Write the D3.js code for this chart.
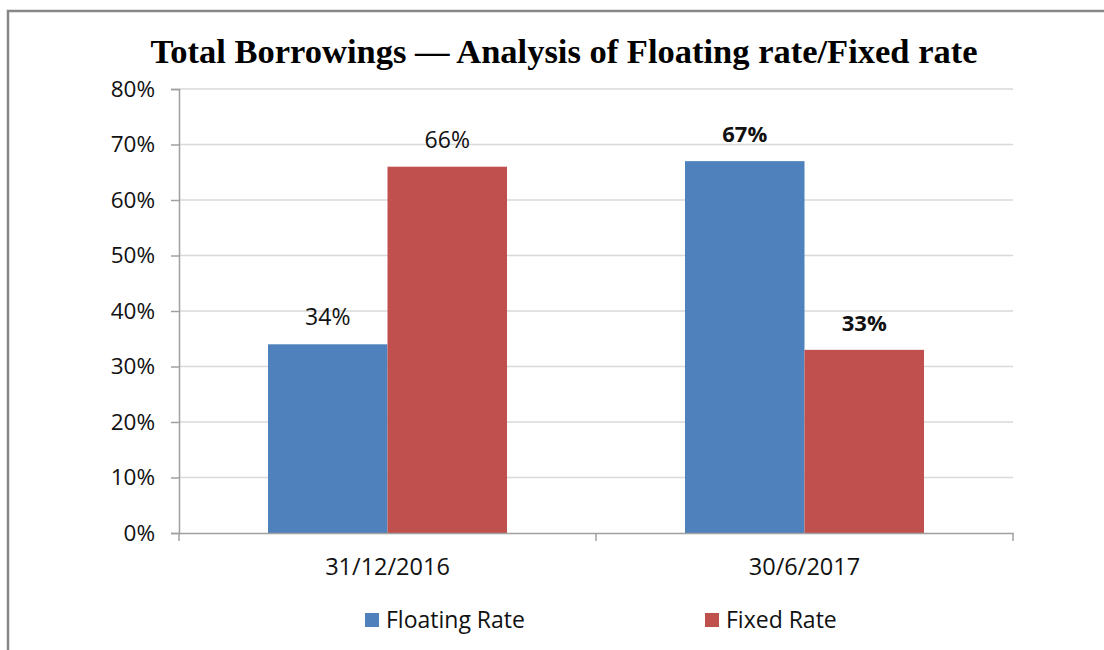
<!DOCTYPE html>
<html>
<head>
<meta charset="utf-8">
<script src="https://cdn.jsdelivr.net/npm/d3@7"></script>
<style>
  body { margin: 0; background: #fff; }
  svg { display: block; }
</style>
</head>
<body>
<svg width="1104" height="650"></svg>
<script>
const categories = ["31/12/2016", "30/6/2017"];
const seriesNames = ["Floating Rate", "Fixed Rate"];
const floatingRate = [34, 67];
const fixedRate = [66, 33];
const boldLabels = [false, true]; // second date has bold data labels
const yTicks = [0, 10, 20, 30, 40, 50, 60, 70, 80];
const colors = ["#4f81bd", "#c0504d"];

const svg = d3.select("svg");
const width = +svg.attr("width");
const height = +svg.attr("height");
const sans = "'Open Sans', 'Noto Sans', sans-serif";

// outer chart frame (only top/left edges visible in the crop)
svg.append("rect")
  .attr("x", 8).attr("y", 11)
  .attr("width", width + 20).attr("height", height + 20)
  .attr("fill", "#fff")
  .attr("stroke", "#878787")
  .attr("stroke-width", 2.5);

const plot = { left: 179, right: 1013, top: 89, bottom: 533 };

const x0 = d3.scaleBand().domain(categories).range([plot.left, plot.right]);
const x1 = d3.scaleBand().domain(seriesNames)
  .range([89, x0.bandwidth() - 89]);
const y = d3.scaleLinear().domain([0, 80]).range([plot.bottom, plot.top]);

// title
svg.append("text")
  .attr("x", 564).attr("y", 63)
  .attr("text-anchor", "middle")
  .attr("font-family", "'Liberation Serif', 'Times New Roman', serif")
  .attr("font-weight", "bold")
  .attr("font-size", 34.5)
  .attr("fill", "#000")
  .text("Total Borrowings \u2014 Analysis of Floating rate/Fixed rate");

// gridlines
svg.append("g")
  .selectAll("line")
  .data(yTicks.filter(t => t > 0))
  .join("line")
  .attr("x1", plot.left).attr("x2", plot.right)
  .attr("y1", d => y(d)).attr("y2", d => y(d))
  .attr("stroke", "#d9d9d9")
  .attr("stroke-width", 1.5);

// bars
const rows = categories.map((c, i) => ({
  cat: c, bold: boldLabels[i],
  values: [floatingRate[i], fixedRate[i]]
}));

const groups = svg.append("g")
  .selectAll("g")
  .data(rows)
  .join("g")
  .attr("transform", d => `translate(${x0(d.cat)},0)`);

groups.selectAll("rect")
  .data(d => d.values.map((v, j) => ({ v, name: seriesNames[j], j, bold: d.bold })))
  .join("rect")
  .attr("x", d => x1(d.name))
  .attr("width", x1.bandwidth())
  .attr("y", d => y(d.v))
  .attr("height", d => y(0) - y(d.v))
  .attr("fill", d => colors[d.j]);

groups.selectAll("text")
  .data(d => d.values.map((v, j) => ({ v, name: seriesNames[j], j, bold: d.bold })))
  .join("text")
  .attr("x", d => x1(d.name) + x1.bandwidth() / 2)
  .attr("y", d => y(d.v) - 19)
  .attr("text-anchor", "middle")
  .attr("font-family", sans)
  .attr("font-size", d => d.bold ? 22 : 23)
  .attr("font-weight", d => d.bold ? "bold" : "normal")
  .attr("fill", "#111")
  .text(d => d.v + "%");

// y axis
const yAxis = svg.append("g")
  .attr("transform", `translate(${plot.left},0)`)
  .call(d3.axisLeft(y).tickValues(yTicks).tickSize(8).tickPadding(16)
    .tickFormat(d => d + "%"));
yAxis.select(".domain").attr("stroke", "#a0a0a0").attr("stroke-width", 1.5);
yAxis.selectAll(".tick line").attr("stroke", "#a0a0a0").attr("stroke-width", 1.5);
yAxis.selectAll(".tick text")
  .attr("font-family", sans)
  .attr("font-size", 22.5)
  .attr("fill", "#111");

// x axis
const xAxis = svg.append("g")
  .attr("transform", `translate(0,${plot.bottom})`)
  .call(d3.axisBottom(x0).tickSize(0).tickPadding(25));
xAxis.select(".domain").attr("stroke", "#a0a0a0").attr("stroke-width", 1.5);
xAxis.selectAll(".tick text")
  .attr("font-family", sans)
  .attr("font-size", 23.5)
  .attr("fill", "#111");
// category boundary ticks
xAxis.append("g")
  .selectAll("line")
  .data(categories.map(c => x0(c)).concat([plot.right]))
  .join("line")
  .attr("x1", d => d).attr("x2", d => d)
  .attr("y1", 0).attr("y2", 8)
  .attr("stroke", "#a0a0a0")
  .attr("stroke-width", 1.5);

// legend
const legendX = [365, 705];
const legend = svg.append("g")
  .selectAll("g")
  .data(seriesNames)
  .join("g")
  .attr("transform", (d, i) => `translate(${legendX[i]},613)`);
legend.append("rect")
  .attr("width", 14).attr("height", 14)
  .attr("fill", (d, i) => colors[i]);
legend.append("text")
  .attr("x", 21).attr("y", 15)
  .attr("font-family", sans)
  .attr("font-size", 23)
  .attr("fill", "#111")
  .text(d => d);
</script>
</body>
</html>
